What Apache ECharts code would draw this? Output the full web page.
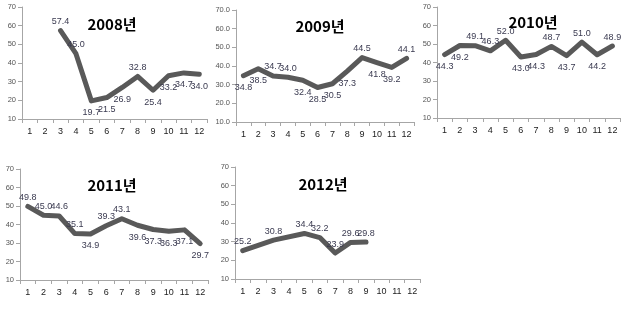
<!DOCTYPE html>
<html><head><meta charset="utf-8">
<script src="https://cdn.jsdelivr.net/npm/echarts@6/dist/echarts.min.js"></script>
<style>html,body{margin:0;padding:0;background:#fff}#c{width:626px;height:329px}</style>
</head><body><div id="c"></div>
<script>
var months = ['1','2','3','4','5','6','7','8','9','10','11','12'];
var titles = ['2008년','2009년','2010년','2011년','2012년'];
var v2008 = [null, null, 57.4, 45.0, 19.7, 21.5, 26.9, 32.8, 25.4, 33.2, 34.7, 34.0];
var v2009 = [34.8, 38.5, 34.7, 34.0, 32.4, 28.5, 30.5, 37.3, 44.5, 41.8, 39.2, 44.1];
var v2010 = [44.3, 49.2, 49.1, 46.3, 52.0, 43.0, 44.3, 48.7, 43.7, 51.0, 44.2, 48.9];
var v2011 = [49.8, 45.0, 44.6, 35.1, 34.9, 39.3, 43.1, 39.6, 37.3, 36.3, 37.1, 29.7];
var v2012 = [25.2, null, 30.8, null, 34.4, 32.2, 23.9, 29.6, 29.8, null, null, null];
var yTicks = [10, 20, 30, 40, 50, 60, 70];

var T='top', B='bottom';
var pos2008 = [T,T,T,T,B,B,B,T,B,B,B,B];
var pos2009 = [B,B,T,T,B,B,B,B,T,B,B,T];
var pos2010 = [B,B,T,T,T,B,B,T,B,T,B,T];
var pos2011 = [T,T,T,T,B,T,T,B,B,B,B,B];
var pos2012 = [T,T,T,T,T,T,T,T,T,T,T,T];

var grids = [
  {left:22, top:7, width:185, height:112},
  {left:236, top:10, width:178, height:112},
  {left:437, top:7, width:183, height:111},
  {left:20, top:169, width:188, height:111},
  {left:235, top:167, width:185, height:112}
];
var titlePos = [[107,22],[315,24],[528,20],[107,183],[318,182]];
var allVals = [v2008, v2009, v2010, v2011, v2012];
var allPos = [pos2008, pos2009, pos2010, pos2011, pos2012];

var option = {
  animation:false,
  backgroundColor:'#fff',
  title: titles.map(function(t,i){return {text:t, left:titlePos[i][0], top:titlePos[i][1]-10, textAlign:'center',
    textStyle:{fontFamily:'Noto Sans CJK KR', fontWeight:'bold', fontSize:15, color:'#000'}};}),
  grid: grids,
  xAxis: grids.map(function(g,i){return {type:'category', gridIndex:i, data:months, boundaryGap:true,
    axisLine:{lineStyle:{color:'#a6a6a6', width:1}},
    axisTick:{show:true, length:4, lineStyle:{color:'#a6a6a6'}},
    axisLabel:{color:'#222', fontSize:9, fontFamily:'Liberation Sans', margin:8}};}),
  yAxis: grids.map(function(g,i){return {type:'value', gridIndex:i, min:yTicks[0], max:yTicks[yTicks.length-1], interval:10,
    axisLine:{show:true, lineStyle:{color:'#a6a6a6', width:1}},
    axisTick:{show:true, length:4, lineStyle:{color:'#a6a6a6'}},
    splitLine:{show:false},
    axisLabel:{color:'#555', fontSize:7.5, fontFamily:'Liberation Sans', margin:6,
      formatter: i===1 ? function(v){return v.toFixed(1);} : '{value}'}};}),
  series: allVals.map(function(vals,i){
    return {type:'line', xAxisIndex:i, yAxisIndex:i, connectNulls:true, showSymbol:true, symbol:'circle', symbolSize:1,
      itemStyle:{color:'rgba(0,0,0,0)'},
      lineStyle:{color:'#595959', width:5, cap:'round', join:'round'},
      labelLayout:{hideOverlap:false},
      label:{show:true, fontSize:9, fontFamily:'Liberation Sans', color:'#3a3a50'},
      data: vals.map(function(v,j){
        if (v===null) return null;
        var p = allPos[i][j];
        return {value:v, label:{show:true, position:p, distance:(p===T?4:7), formatter:v.toFixed(1)}};
      })
    };
  })
};
var ch = echarts.init(document.getElementById('c'), null, {renderer:'canvas'});
ch.setOption(option);
</script></body></html>
